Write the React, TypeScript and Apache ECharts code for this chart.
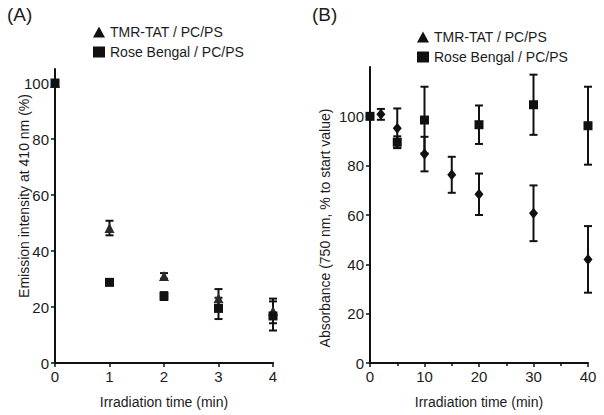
import React, { useEffect, useRef } from "react";
import * as echarts from "echarts";

// Panel A
const xA = [0, 1, 2, 3, 4];
const tmrA = [100, 48.2, 31.1, 23.1, 18.6];
const tmrAErr = [0, 2.6, 1.0, 3.3, 4.4];
const rbA = [100, 28.8, 23.9, 19.5, 16.8];
const rbAErr = [0, 0.9, 1.4, 3.8, 5.2];

// Panel B
const xBtmr = [0, 2, 5, 10, 15, 20, 30, 40];
const tmrB = [100, 100.8, 95.2, 84.7, 76.3, 68.4, 60.7, 42.0];
const tmrBErr = [0, 2.2, 8, 7, 7.3, 8.4, 11.3, 13.5];
const xBrb = [0, 5, 10, 20, 30, 40];
const rbB = [100, 89.5, 98.5, 96.6, 104.7, 96.2];
const rbBErr = [0, 2.4, 13.5, 7.8, 12.2, 15.8];

const yTicksA = [0, 20, 40, 60, 80, 100];
const yTicksB = [0, 20, 40, 60, 80, 100];

const NAME_TMR = "TMR-TAT / PC/PS";
const NAME_RB = "Rose Bengal / PC/PS";
const FONT = "Liberation Sans, Arial, sans-serif";
const INK = "#111";
const TXT = "#1c1c1c";

function zip(xs: number[], ys: number[], es?: number[]) {
  return xs.map((x, i) => (es ? [x, ys[i], es[i]] : [x, ys[i]]));
}

function errSeries(idx: number, xs: number[], ys: number[], es: number[]) {
  return {
    type: "custom",
    xAxisIndex: idx,
    yAxisIndex: idx,
    clip: false,
    silent: true,
    z: 2,
    data: zip(xs, ys, es),
    renderItem: (_p: any, api: any) => {
      const x = api.value(0);
      const y = api.value(1);
      const e = api.value(2);
      if (!e) return { type: "group", children: [] };
      const t = api.coord([x, y + e]);
      const b = api.coord([x, y - e]);
      const w = 4;
      const st = { stroke: INK, lineWidth: 2 };
      return {
        type: "group",
        children: [
          { type: "line", shape: { x1: t[0], y1: t[1], x2: b[0], y2: b[1] }, style: st },
          { type: "line", shape: { x1: t[0] - w, y1: t[1], x2: t[0] + w, y2: t[1] }, style: st },
          { type: "line", shape: { x1: b[0] - w, y1: b[1], x2: b[0] + w, y2: b[1] }, style: st },
        ],
      };
    },
  };
}

function axisCommon() {
  return {
    axisLine: { show: true, onZero: false, lineStyle: { color: INK, width: 2 } },
    axisTick: { show: true, length: 4, lineStyle: { color: INK, width: 1.5 } },
    axisLabel: { color: TXT, fontSize: 15, fontFamily: FONT, margin: 6 },
    splitLine: { show: false },
  };
}

function legendAt(left: number, top: number) {
  return {
    orient: "vertical",
    left,
    top,
    itemWidth: 12,
    itemHeight: 11,
    itemGap: 6,
    selectedMode: false,
    textStyle: { color: TXT, fontSize: 14, fontFamily: FONT },
    data: [
      { name: NAME_TMR, icon: "triangle", itemStyle: { color: INK, opacity: 1 } },
      { name: NAME_RB, icon: "rect", itemStyle: { color: INK, opacity: 1 } },
    ],
  };
}

export default function App() {
  const ref = useRef<HTMLDivElement>(null);
  useEffect(() => {
    if (!ref.current) return;
    const chart = echarts.init(ref.current, undefined, { renderer: "svg" });
    const ac = axisCommon();
    chart.setOption({
      animation: false,
      backgroundColor: "#fff",
      textStyle: { fontFamily: FONT },
      grid: [
        { left: 55, top: 69, width: 218, height: 294 },
        { left: 370, top: 67, width: 218, height: 296 },
      ],
      xAxis: [
        {
          gridIndex: 0,
          type: "value",
          min: 0,
          max: 4,
          interval: 1,
          ...ac,
          name: "Irradiation time (min)",
          nameLocation: "middle",
          nameGap: 32,
          nameTextStyle: { color: TXT, fontSize: 14, fontFamily: FONT },
        },
        {
          gridIndex: 1,
          type: "value",
          min: 0,
          max: 40,
          interval: 10,
          ...ac,
          minorTick: { show: true, splitNumber: 2, length: 3, lineStyle: { color: INK, width: 1.5 } },
          name: "Irradiation time (min)",
          nameLocation: "middle",
          nameGap: 32,
          nameTextStyle: { color: TXT, fontSize: 14, fontFamily: FONT },
        },
      ],
      yAxis: [
        {
          gridIndex: 0,
          type: "value",
          min: 0,
          max: 105,
          ...ac,
          axisTick: { ...ac.axisTick, customValues: yTicksA },
          axisLabel: { ...ac.axisLabel, customValues: yTicksA },
        },
        {
          gridIndex: 1,
          type: "value",
          min: 0,
          max: 120,
          ...ac,
          axisTick: { ...ac.axisTick, customValues: yTicksB },
          axisLabel: { ...ac.axisLabel, customValues: yTicksB },
        },
      ],
      legend: [legendAt(88, 20), legendAt(412, 25)],
      graphic: [
        { type: "text", left: 7, top: 5, style: { text: "(A)", fontSize: 19, fontFamily: FONT, fill: TXT } },
        { type: "text", left: 312, top: 5, style: { text: "(B)", fontSize: 19, fontFamily: FONT, fill: TXT } },
        {
          type: "text",
          x: 24,
          y: 196,
          rotation: Math.PI / 2,
          style: {
            text: "Emission intensity at 410 nm (%)",
            fontSize: 14,
            fontFamily: FONT,
            fill: TXT,
            align: "center",
            verticalAlign: "middle",
          },
        },
        {
          type: "text",
          x: 325,
          y: 228,
          rotation: Math.PI / 2,
          style: {
            text: "Absorbance (750 nm, % to start value)",
            fontSize: 14,
            fontFamily: FONT,
            fill: TXT,
            align: "center",
            verticalAlign: "middle",
          },
        },
      ],
      series: [
        errSeries(0, xA, tmrA, tmrAErr),
        errSeries(0, xA, rbA, rbAErr),
        errSeries(1, xBtmr, tmrB, tmrBErr),
        errSeries(1, xBrb, rbB, rbBErr),
        {
          name: NAME_TMR,
          type: "scatter",
          xAxisIndex: 0,
          yAxisIndex: 0,
          symbol: "triangle",
          symbolSize: 10,
          clip: false,
          z: 3,
          itemStyle: { color: "#2a2a2a", opacity: 1 },
          data: zip(xA, tmrA),
        },
        {
          name: NAME_RB,
          type: "scatter",
          xAxisIndex: 0,
          yAxisIndex: 0,
          symbol: "rect",
          symbolSize: 9,
          clip: false,
          z: 4,
          itemStyle: { color: INK, opacity: 1 },
          data: zip(xA, rbA),
        },
        {
          name: NAME_TMR,
          type: "scatter",
          xAxisIndex: 1,
          yAxisIndex: 1,
          symbol: "diamond",
          symbolSize: [9, 11],
          clip: false,
          z: 3,
          itemStyle: { color: INK, opacity: 1 },
          data: zip(xBtmr, tmrB),
        },
        {
          name: NAME_RB,
          type: "scatter",
          xAxisIndex: 1,
          yAxisIndex: 1,
          symbol: "rect",
          symbolSize: 9,
          clip: false,
          z: 4,
          itemStyle: { color: INK, opacity: 1 },
          data: zip(xBrb, rbB),
        },
      ],
    });
    return () => chart.dispose();
  }, []);
  return <div ref={ref} style={{ width: 604, height: 415, position: "absolute", left: 0, top: 0 }} />;
}
